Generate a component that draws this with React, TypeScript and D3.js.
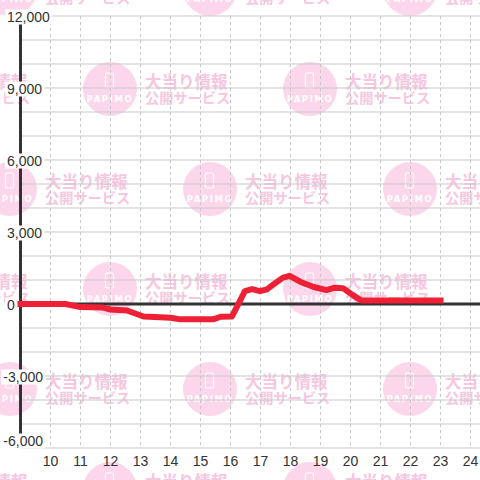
import React from "react";
import * as d3 from "d3";

const hours = [9.0, 10.5, 11.0, 11.75, 12.0, 12.55, 13.1, 14.0, 14.33, 15.42, 15.67, 16.05, 16.48, 16.72, 16.98, 17.2, 17.48, 17.75, 17.97, 18.32, 18.75, 19.2, 19.47, 19.75, 20.1, 20.35, 23.0];
const values = [0, 0, -130, -150, -230, -270, -520, -570, -640, -640, -530, -520, 540, 620, 540, 600, 860, 1100, 1170, 930, 720, 580, 680, 660, 350, 150, 150];
const yTicks = [-6000, -3000, 0, 3000, 6000, 9000, 12000];
const yGrid = d3.range(-6000, 12001, 1000);
const xTicks = d3.range(10, 25, 1);

const W = 480;
const H = 480;
const FONT = "'Liberation Sans', Arial, sans-serif";

function textWidth(s: string) {
  let w = 0;
  for (const c of s) {
    if (c === ",") w += 3.9;
    else if (c === "-") w += 4.7;
    else w += 7.8;
  }
  return w;
}

function Watermark({ cx, cy }: { cx: number; cy: number }) {
  return (
    <g>
      <circle cx={cx} cy={cy} r={27} fill="#fcd6ea" />
      <rect x={cx - 4.5} y={cy - 16} width={8} height={15} rx={1.5} fill="none" stroke="#ffffff" strokeWidth={1.2} />
      <text x={cx} y={cy + 13} textAnchor="middle" fontFamily="'DejaVu Sans', sans-serif" fontSize={8.5} fontWeight="bold" letterSpacing={1.6} fill="#ffffff">PAPIMO</text>
      <text x={cx + 35} y={cy - 8} dominantBaseline="central" fontFamily="'Noto Sans CJK JP', sans-serif" fontSize={16.5} fontWeight="bold" fill="#f8c6e0">大当り情報</text>
      <text x={cx + 35} y={cy + 8} dominantBaseline="central" fontFamily="'Noto Sans CJK JP', sans-serif" fontSize={14.2} fontWeight="bold" fill="#f8c6e0">公開サービス</text>
    </g>
  );
}

export default function App() {
  const x = d3.scaleLinear().domain([9, 24]).range([20.5, 470.5]);
  const y = d3.scaleLinear().domain([-6000, 12000]).range([448, 16]);
  const fmt = d3.format(",");

  const tiles: { cx: number; cy: number }[] = [];
  for (let i = -2; i <= 4; i++) {
    for (let j = -2; j <= 5; j++) {
      if ((i + j) % 2 === 0) tiles.push({ cx: 110 + 100 * i, cy: 89 + 100 * j });
    }
  }

  const pts: [number, number][] = hours.map((h, i) => [h, values[i]]);
  const line = d3
    .line<[number, number]>()
    .x((d) => x(d[0]))
    .y((d) => y(d[1]))
    .curve(d3.curveLinear);

  return (
    <svg width={W} height={H} style={{ position: "absolute", left: 0, top: 0, background: "#fff" }}>
      <rect x={0} y={0} width={W} height={H} fill="#fff" />
      {tiles.map((t, k) => (
        <Watermark key={k} cx={t.cx} cy={t.cy} />
      ))}
      {yGrid.map((v) => (
        <line key={"hg" + v} x1={x(9)} x2={W} y1={y(v)} y2={y(v)} stroke="#c8c8c8" strokeWidth={1.2} />
      ))}
      {xTicks.map((h) => (
        <line key={"vg" + h} x1={x(h)} x2={x(h)} y1={y(12000)} y2={y(-6000)} stroke="#c8c8c8" strokeWidth={1} strokeDasharray="3,3" />
      ))}
      <line x1={x(9)} x2={x(9)} y1={y(12000)} y2={y(-6000)} stroke="#333" strokeWidth={3} />
      <line x1={x(9)} x2={W} y1={y(0)} y2={y(0)} stroke="#333" strokeWidth={3} />
      <path d={line(pts) || ""} fill="none" stroke="#ee2035" strokeWidth={6} strokeLinejoin="round" strokeLinecap="square" />
      {yTicks.map((v) => {
        const s = fmt(v).replace("−", "-");
        const w = textWidth(s);
        const cy = Math.min(y(v) + 1, 441);
        const neg = v < 0;
        const tx = neg ? 43 : 7;
        const rx = neg ? tx - w - 2 : tx - 2;
        return (
          <g key={"yl" + v}>
            <rect x={rx} y={cy - 7.5} width={w + 4} height={15} fill="#fff" />
            <text x={tx} y={cy} textAnchor={neg ? "end" : "start"} dominantBaseline="central" fontFamily={FONT} fontSize={14} fill="#333">{s}</text>
          </g>
        );
      })}
      {xTicks.map((h) => (
        <text key={"xl" + h} x={x(h)} y={461} textAnchor="middle" dominantBaseline="central" fontFamily={FONT} fontSize={14} fill="#333">{h}</text>
      ))}
    </svg>
  );
}
